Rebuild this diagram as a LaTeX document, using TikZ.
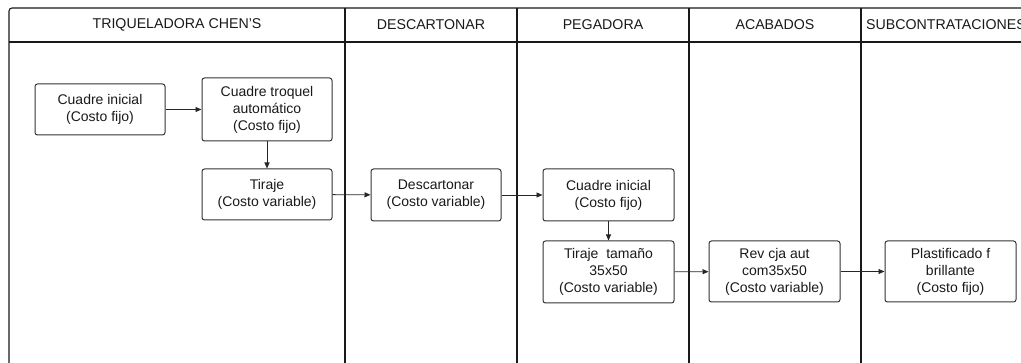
\documentclass[tikz,border=0pt]{standalone}
\usepackage{fontspec}
\setmainfont{Liberation Sans}
\usetikzlibrary{arrows.meta}
\begin{document}
\begin{tikzpicture}[x=1pt,y=-1pt,
  lane/.style={draw=black!90,line width=1.1pt},
  head/.style={font=\fontsize{14.2}{16}\selectfont,text=black!90,anchor=center},
  proc/.style={draw=black!80,line width=1pt,rounded corners=2.5pt,
    align=center,inner sep=0pt,text=black!90,
    font=\fontsize{14}{17}\selectfont},
  flow/.style={draw=black!85,line width=0.9pt,-{Triangle[length=6pt,width=5pt]}}]
\useasboundingbox (0,0) rectangle (1021,363);
\clip (0,0) rectangle (1021,363);
% swimlane frame
\draw[lane,rounded corners=3pt] (9,363) -- (9,8) -- (1040,8) -- (1040,363);
\draw[lane] (9,42) -- (1040,42);
\foreach \xx in {345,517,689,861} \draw[lane] (\xx,8) -- (\xx,363);
% lane titles
\node[head] (h1) at (177,25) {TRIQUELADORA CHEN\symbol{39}S};
\node[head] (h2) at (431,25) {DESCARTONAR};
\node[head] (h3) at (603,25) {PEGADORA};
\node[head] (h4) at (775,25) {ACABADOS};
\node[head,anchor=west,inner sep=0pt] (h5) at (866,25) {SUBCONTRATACIONES};
% process boxes
\node[proc,minimum width=130pt,minimum height=51pt] (ci) at (100,109.5) {Cuadre inicial\\(Costo fijo)};
\node[proc,minimum width=130pt,minimum height=63pt] (ct) at (267,109.5) {Cuadre troquel\\automático\\(Costo fijo)};
\node[proc,minimum width=130pt,minimum height=51pt] (ti) at (267,194.5) {Tiraje\\(Costo variable)};
\node[proc,minimum width=130pt,minimum height=52pt] (de) at (436,195) {Descartonar\\(Costo variable)};
\node[proc,minimum width=131pt,minimum height=52pt] (pc) at (608.5,195) {Cuadre inicial\\(Costo fijo)};
\node[proc,minimum width=131pt,minimum height=62pt] (pt) at (608.5,272) {Tiraje\ \ tamaño\\35x50\\(Costo variable)};
\node[proc,minimum width=131pt,minimum height=61pt] (rv) at (774.5,271.5) {Rev cja aut\\com35x50\\(Costo variable)};
\node[proc,minimum width=131pt,minimum height=61pt] (pl) at (950.5,271.5) {Plastificado f\\brillante\\(Costo fijo)};
% connectors
\draw[flow] (ci) -- (ct);
\draw[flow] (ct) -- (ti);
\draw[flow] (ti) -- (de);
\draw[flow] (de) -- (pc);
\draw[flow] (pc) -- (pt);
\draw[flow] (pt) -- (rv);
\draw[flow] (rv) -- (pl);
\end{tikzpicture}
\end{document}
